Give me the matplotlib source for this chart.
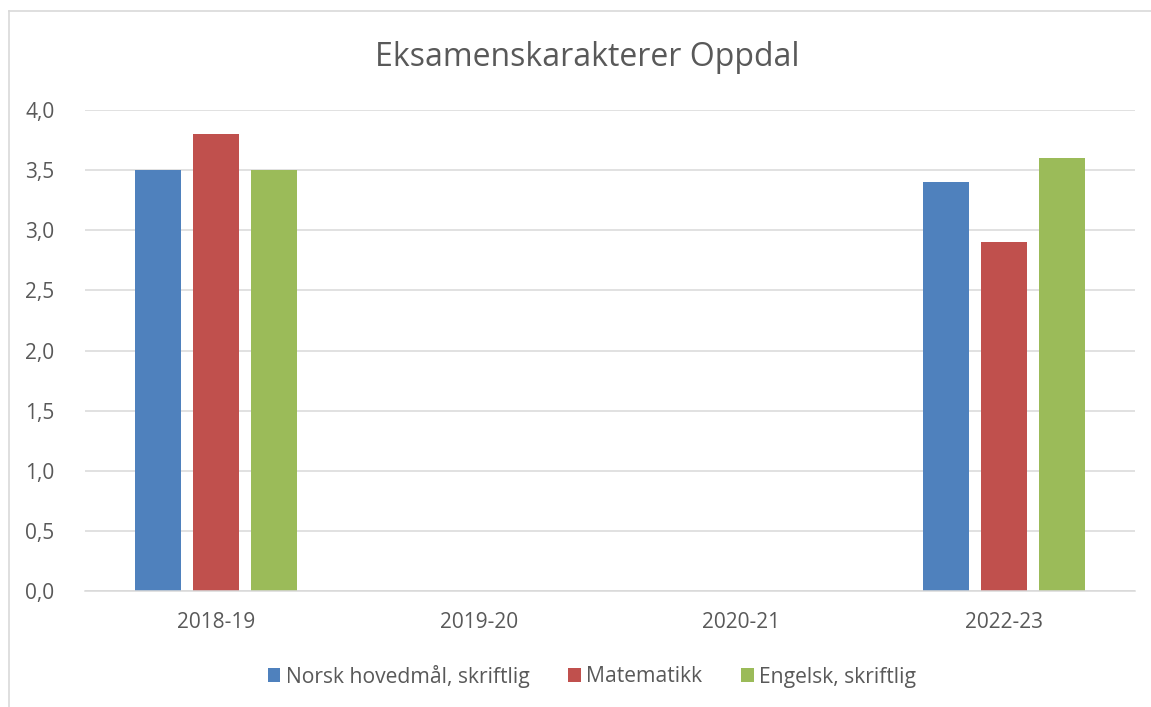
import numpy as np
import matplotlib
matplotlib.use("Agg")
import matplotlib.pyplot as plt
from matplotlib.lines import Line2D
from matplotlib.ticker import FuncFormatter

# data
years = ["2018-19", "2019-20", "2020-21", "2022-23"]
norsk = [3.5, np.nan, np.nan, 3.4]
matte = [3.8, np.nan, np.nan, 2.9]
engelsk = [3.5, np.nan, np.nan, 3.6]
series_names = ["Norsk hovedmål, skriftlig", "Matematikk", "Engelsk, skriftlig"]
colors = ["#4F81BD", "#C0504D", "#9BBB59"]

plt.rcParams['font.family'] = ['Open Sans', 'DejaVu Sans']
txt = "#595959"
grid_c = "#D9D9D9"

W, H = 1151, 707
fig = plt.figure(figsize=(W / 100, H / 100), dpi=100)
ax = fig.add_axes([85 / W, 1 - 591 / H, (1135 - 85) / W, (591 - 110) / H])

x = np.arange(len(years))
bw = 0.175
step = 0.221
handles = []
for i, (vals, name, c) in enumerate(zip([norsk, matte, engelsk], series_names, colors)):
    b = ax.bar(x + (i - 1) * step, vals, width=bw, color=c, label=name)
    handles.append(b)

ax.set_xlim(-0.5, len(years) - 0.5)
ax.set_ylim(0, 4)
ax.set_yticks(np.arange(0, 4.01, 0.5))
ax.yaxis.set_major_formatter(FuncFormatter(lambda v, p: f"{v:.1f}".replace(".", ",")))
ax.set_xticks(x)
ax.set_xticklabels(years)
ax.tick_params(axis="both", length=0, colors=txt, labelsize=15)
ax.tick_params(axis="y", pad=22)
ax.tick_params(axis="x", pad=15)
ax.grid(axis="y", color=grid_c, linewidth=1.1)
ax.set_axisbelow(True)
for s in ["top", "right", "left"]:
    ax.spines[s].set_visible(False)
ax.spines["bottom"].set_color(grid_c)
ax.spines["bottom"].set_linewidth(1.1)

fig.text(587 / W, 1 - 57 / H, "Eksamenskarakterer Oppdal", ha="center", va="center",
         fontsize=23, color=txt)

fig.legend(handles=handles, loc="center", bbox_to_anchor=(592 / W, 1 - 676 / H), ncol=3,
           frameon=False, fontsize=15.2, labelcolor=txt, handlelength=0.6, handleheight=0.6,
           handletextpad=0.25, columnspacing=1.85)

# chart frame (only top and left edges visible)
fig.add_artist(Line2D([9 / W, 1], [1 - 11 / H, 1 - 11 / H], transform=fig.transFigure,
                      color=grid_c, linewidth=1.2))
fig.add_artist(Line2D([9 / W, 9 / W], [0, 1 - 11 / H], transform=fig.transFigure,
                      color=grid_c, linewidth=1.2))

fig.savefig("out.png", dpi=100, facecolor="white")
